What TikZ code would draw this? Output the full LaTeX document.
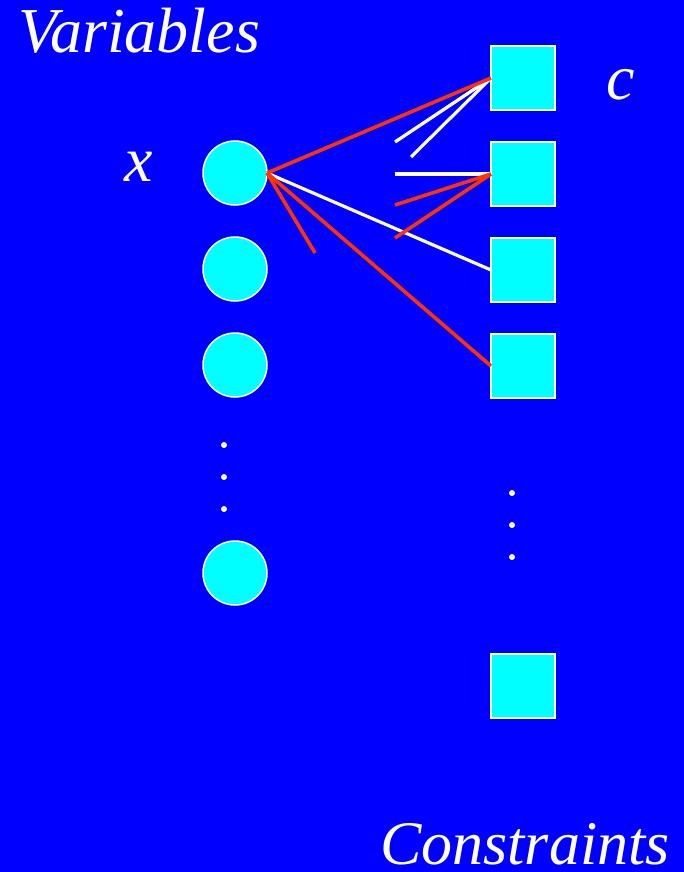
\documentclass[tikz,border=0pt]{standalone}
\usepackage{fontspec}
\setmainfont{Liberation Serif}
\definecolor{bg}{HTML}{0000FF}
\definecolor{aqua}{HTML}{00FFFF}
\definecolor{redline}{HTML}{FF3300}
\begin{document}
\begin{tikzpicture}[x=1pt,y=-1pt,
  varnode/.style={circle,fill=aqua,draw=white,line width=1.5pt,minimum size=64pt,inner sep=0pt,outer sep=0pt},
  connode/.style={rectangle,fill=aqua,draw=white,line width=1.5pt,minimum size=64pt,inner sep=0pt,outer sep=0pt},
  lbl/.style={text=white,font=\itshape\fontsize{64}{64}\selectfont,inner sep=0pt},
  rededge/.style={draw=redline,line width=3.6pt},
  whiteedge/.style={draw=white,line width=3.2pt},
  dotmark/.style={circle,fill=white,minimum size=6pt,inner sep=0pt}]
\fill[bg] (0,0) rectangle (684,872);
\useasboundingbox (0,0) rectangle (684,872);
% labels
\node[lbl,anchor=base west] (tv) at (18,53) {Variables};
\node[lbl,anchor=base] (tx) at (139,181) {x};
\node[lbl,anchor=base] (tc) at (621,100) {c};
\node[lbl,anchor=base west,text depth=0pt,font=\itshape\fontsize{62}{62}\selectfont] (tcs) at (380,864) {Constraints};
% variables
\node[varnode] (v1) at (235,173) {};
\node[varnode] (v2) at (235,269) {};
\node[varnode] (v3) at (235,365) {};
\node[varnode] (v4) at (235,573) {};
% constraints
\node[connode] (c1) at (523,78) {};
\node[connode] (c2) at (523,174) {};
\node[connode] (c3) at (523,270) {};
\node[connode] (c4) at (523,366) {};
\node[connode] (c5) at (523,686) {};
% dots
\node[dotmark] (d1) at (224,445) {};
\node[dotmark] (d2) at (224,477) {};
\node[dotmark] (d3) at (224,509) {};
\node[dotmark] (d4) at (512,493) {};
\node[dotmark] (d5) at (512,525) {};
\node[dotmark] (d6) at (512,557) {};
% free ends
\coordinate (w1) at (395,142);
\coordinate (w2) at (411,157);
\coordinate (w3) at (395,174);
\coordinate (r1) at (395,205);
\coordinate (r2) at (395,238);
\coordinate (r3) at (315,253);
% edges
\draw[whiteedge] (c1.west) -- (w1);
\draw[whiteedge] (c1.west) -- (w2);
\draw[whiteedge] (w3) -- (c2.west);
\draw[whiteedge] (v1.east) -- (c3.west);
\draw[rededge] (v1.east) -- (c1.west);
\draw[rededge] (r1) -- (c2.west);
\draw[rededge] (r2) -- (c2.west);
\draw[rededge] (v1.east) -- (r3);
\draw[rededge] (v1.east) -- (c4.west);
\end{tikzpicture}
\end{document}
